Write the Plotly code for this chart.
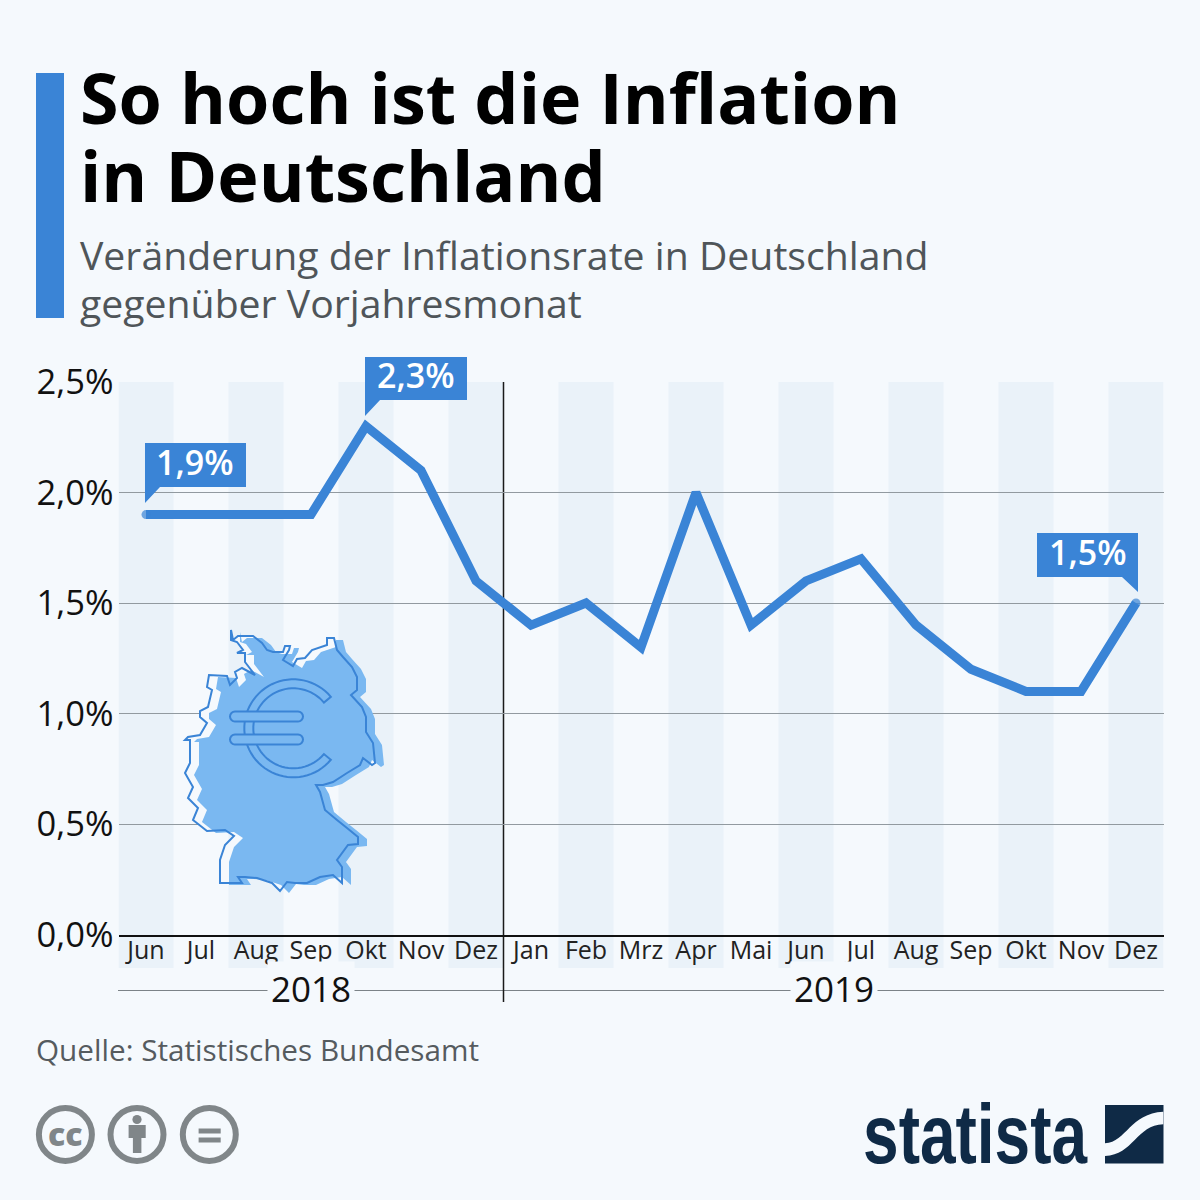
import numpy as np
import plotly.graph_objects as go

months = ["Jun", "Jul", "Aug", "Sep", "Okt", "Nov", "Dez", "Jan", "Feb", "Mrz", "Apr", "Mai",
          "Jun", "Jul", "Aug", "Sep", "Okt", "Nov", "Dez"]
inflation = [1.9, 1.9, 1.9, 1.9, 2.3, 2.1, 1.6, 1.4, 1.5, 1.3, 2.0, 1.4, 1.6, 1.7, 1.4, 1.2, 1.1, 1.1, 1.5]
y_ticks = [0.0, 0.5, 1.0, 1.5, 2.0, 2.5]
y_labels = ["0,0%", "0,5%", "1,0%", "1,5%", "2,0%", "2,5%"]
years = ["2018", "2019"]
year_spans = [(0, 6), (7, 18)]

title_lines = ["So hoch ist die Inflation", "in Deutschland"]
subtitle_lines = ["Veränderung der Inflationsrate in Deutschland", "gegenüber Vorjahresmonat"]
source = "Quelle: Statistisches Bundesamt"

BG = "#f5f9fd"
BLUE = "#3a84d6"
MAP_BLUE = "#7ab8f1"
BAND = "#eaf2f9"
GREY = "#808689"
NAVY = "#0f2a46"
FONT = "Open Sans"

# germany outline in pixels
germany = [(231, 630), (233, 640), (238, 636), (253, 636), (262, 643), (267, 650), (273, 652), (283, 652),
           (285, 646), (290, 646), (289, 650), (283, 660), (293, 666), (297, 659), (305, 658), (312, 650),
           (327, 645), (327, 638), (334, 638), (337, 650), (343, 657), (352, 667), (357, 677), (357, 690),
           (351, 695), (362, 707), (366, 717), (366, 732), (373, 743), (375, 763), (372, 765), (363, 758),
           (360, 765), (347, 773), (333, 782), (323, 785), (316, 785), (320, 792), (325, 810), (337, 820),
           (347, 828), (358, 837), (358, 844), (348, 845), (337, 860), (342, 867), (342, 883), (333, 875),
           (320, 877), (307, 883), (295, 883), (287, 882), (280, 891), (272, 883), (257, 878), (245, 877),
           (238, 877), (242, 883), (220, 883), (220, 860), (225, 845), (234, 836), (225, 830), (207, 831),
           (193, 820), (198, 808), (188, 798), (193, 787), (185, 773), (190, 763), (190, 740), (185, 740),
           (188, 737), (200, 735), (207, 723), (200, 717), (200, 711), (208, 707), (212, 690), (207, 687),
           (209, 675), (227, 676), (230, 685), (237, 678), (235, 672), (242, 668), (255, 675), (245, 662),
           (245, 653), (237, 653), (243, 650), (237, 642), (231, 640)]


def px(x):
    return x / 1200


def py(y):
    return 1 - y / 1200


def path_from(points, close=True):
    parts = [f"{'M' if i == 0 else 'L'} {px(x):.5f} {py(y):.5f}" for i, (x, y) in enumerate(points)]
    return " ".join(parts) + (" Z" if close else "")


def poly(points, fill=None, line=None, width=0, layer="above"):
    return dict(type="path", xref="paper", yref="paper", path=path_from(points), layer=layer,
                fillcolor=fill or "rgba(0,0,0,0)", line=dict(color=line or "rgba(0,0,0,0)", width=width))


def rect(x0, y0, x1, y1, fill, layer="above"):
    return dict(type="rect", xref="paper", yref="paper", x0=px(x0), x1=px(x1), y0=py(y0), y1=py(y1),
                fillcolor=fill, line_width=0, layer=layer)


def ring(cx, cy, r, color, width):
    return dict(type="circle", xref="paper", yref="paper", x0=px(cx - r), x1=px(cx + r), y0=py(cy - r),
                y1=py(cy + r), line=dict(color=color, width=width), layer="above")


def text(x, y, s, size, color, anchor="left", weight=400, family=FONT):
    return dict(xref="paper", yref="paper", x=px(x), y=py(y), text=s, showarrow=False, xanchor=anchor,
                yanchor="middle", borderpad=0, font=dict(family=family, size=size, color=color, weight=weight))


def euro_shapes():
    cx, cy = 293.3, 728.3
    outer, inner = 49, 40
    angles = np.radians(np.linspace(40, 320, 60))
    arc_out = [(cx + outer * np.cos(a), cy - outer * np.sin(a)) for a in angles]
    arc_in = [(cx + inner * np.cos(a), cy - inner * np.sin(a)) for a in angles[::-1]]
    out = [poly(arc_out + arc_in, None, BLUE, 2)]
    for y in (716.5, 739.5):
        caps = [(235 + 5 * np.cos(a), y + 5 * np.sin(a)) for a in np.radians(np.linspace(90, 270, 9))]
        caps += [(298 + 5 * np.cos(a), y + 5 * np.sin(a)) for a in np.radians(np.linspace(-90, 90, 9))]
        out.append(poly(caps, MAP_BLUE, BLUE, 2))
    return out


def callout_shapes():
    return [poly([(145, 443), (246, 443), (246, 487), (160, 487), (145, 503)], BLUE),
            poly([(365, 357), (467, 357), (467, 400), (380, 400), (365, 416)], BLUE),
            poly([(1037, 533), (1138, 533), (1138, 592), (1122, 577), (1037, 577)], BLUE)]


def swoosh():
    def p(x, y):
        return f"{px(840 + x / 3):.5f} {py(1080 + y / 3):.5f}"
    return (f"M {p(795, 190)} C {p(860, 185)} {p(870, 100)} {p(970, 95)} L {p(970, 133)} "
            f"C {p(890, 135)} {p(880, 225)} {p(795, 228)} Z")


x_idx = list(range(len(months)))
end_sizes = [9 if i in (0, len(months) - 1) else 0 for i in x_idx]

fig = go.Figure(go.Scatter(x=x_idx, y=inflation, mode="lines+markers", line=dict(color=BLUE, width=9),
                           marker=dict(color=BLUE, size=end_sizes, line_width=0), hoverinfo="skip",
                           showlegend=False, cliponaxis=False))

shapes = []
# month bands sit behind the grid
for i in x_idx[::2]:
    shapes.append(dict(type="rect", xref="x", yref="paper", x0=i - 0.5, x1=i + 0.5, y0=py(968), y1=py(382),
                       fillcolor=BAND, line_width=0, layer="below"))
shapes.append(dict(type="line", xref="paper", yref="paper", x0=px(118), x1=px(1164), y0=py(990.5), y1=py(990.5),
                   line=dict(color="#7c8388", width=1), layer="below"))
shapes.append(dict(type="line", xref="x", yref="paper", x0=6.5, x1=6.5, y0=py(1002), y1=py(382),
                   line=dict(color="#1a1a1a", width=1.5), layer="below"))
shapes.append(rect(36, 73, 64, 318, BLUE))

# germany map with euro sign
shapes.append(poly(germany, BG))
shapes.append(poly([(x + 9, y + 2) for x, y in germany], MAP_BLUE))
shapes.append(poly(germany, None, BLUE, 2))
shapes += euro_shapes()
shapes += callout_shapes()

# licence icons
for cx in (65.4, 137, 209.3):
    shapes.append(ring(cx, 1134.5, 26.5, GREY, 6))
shapes.append(dict(type="circle", xref="paper", yref="paper", x0=px(132.4), x1=px(141.6), y0=py(1115), y1=py(1124),
                   fillcolor=GREY, line_width=0, layer="above"))
shapes.append(poly([(128.6, 1125), (145.7, 1125), (145.7, 1138), (141.4, 1138), (141.4, 1153), (132.9, 1153),
                    (132.9, 1138), (128.6, 1138)], GREY))
shapes.append(rect(198.6, 1128.5, 220.7, 1133.5, GREY))
shapes.append(rect(198.6, 1137.5, 220.7, 1142.5, GREY))

# statista mark
shapes.append(rect(1105, 1105, 1163.5, 1163.5, NAVY))
shapes.append(dict(type="path", xref="paper", yref="paper", path=swoosh(), fillcolor=BG, line_width=0, layer="above"))

annotations = [
    text(79, 97, title_lines[0], 70, "#000000", weight=700),
    text(79, 175, title_lines[1], 70, "#000000", weight=700),
    text(79, 254, subtitle_lines[0], 39.2, "#4f5559"),
    text(79, 303, subtitle_lines[1], 39.2, "#4f5559"),
    text(35, 1049, source, 29.7, "#555b5f"),
    text(65.4, 1133, "cc", 32, GREY, anchor="center", weight=800),
    text(975.5, 1134, "statista", 84, NAVY, anchor="center", weight=700, family="Liberation Sans"),
    text(195, 462, f"{inflation[0]:.1f}%".replace(".", ","), 34, "#ffffff", anchor="center", weight=600),
    text(416, 375, f"{inflation[4]:.1f}%".replace(".", ","), 34, "#ffffff", anchor="center", weight=600),
    text(1088, 552, f"{inflation[-1]:.1f}%".replace(".", ","), 34, "#ffffff", anchor="center", weight=600),
]
for year, (first, last) in zip(years, year_spans):
    annotations.append(dict(xref="x", yref="paper", x=(first + last) / 2, y=py(988), text=year, showarrow=False,
                            yanchor="middle", bgcolor=BG, borderpad=3,
                            font=dict(family=FONT, size=35, color="#111111")))

fig.update_layout(
    width=1200, height=1200, margin=dict(l=0, r=0, t=0, b=0, autoexpand=False), paper_bgcolor=BG,
    plot_bgcolor="rgba(0,0,0,0)", font=dict(family=FONT, color="#111111"), shapes=shapes, annotations=annotations,
    showlegend=False,
    xaxis=dict(domain=[px(118.5), px(1163.5)], range=[-0.5, 18.5], tickmode="array", tickvals=x_idx, ticktext=months,
               tickfont=dict(size=25, color="#222222"), showgrid=False, zeroline=False, showline=True,
               linecolor="#111111", linewidth=2, ticks="", tickangle=0, fixedrange=True, automargin=False,
               ticklabelstandoff=-8),
    yaxis=dict(domain=[py(934.5), py(382)], range=[0, 2.5], tickmode="array", tickvals=y_ticks, ticktext=y_labels,
               tickfont=dict(size=34.5, color="#111111"), showgrid=True, gridcolor="#929aa0", gridwidth=1.4,
               zeroline=False, ticks="", showline=False, fixedrange=True, automargin=False, ticklabelstandoff=4),
)

# squeeze the wordmark to the narrow width of the logo
squeeze = """
document.body.style.margin = '0';
document.querySelectorAll('.annotation-text').forEach(function (t) {
  if (t.textContent === 'statista') {
    t.setAttribute('textLength', '224');
    t.setAttribute('lengthAdjust', 'spacingAndGlyphs');
  }
});
"""
fig.write_html("out.html", config=dict(displayModeBar=False), post_script=squeeze)
